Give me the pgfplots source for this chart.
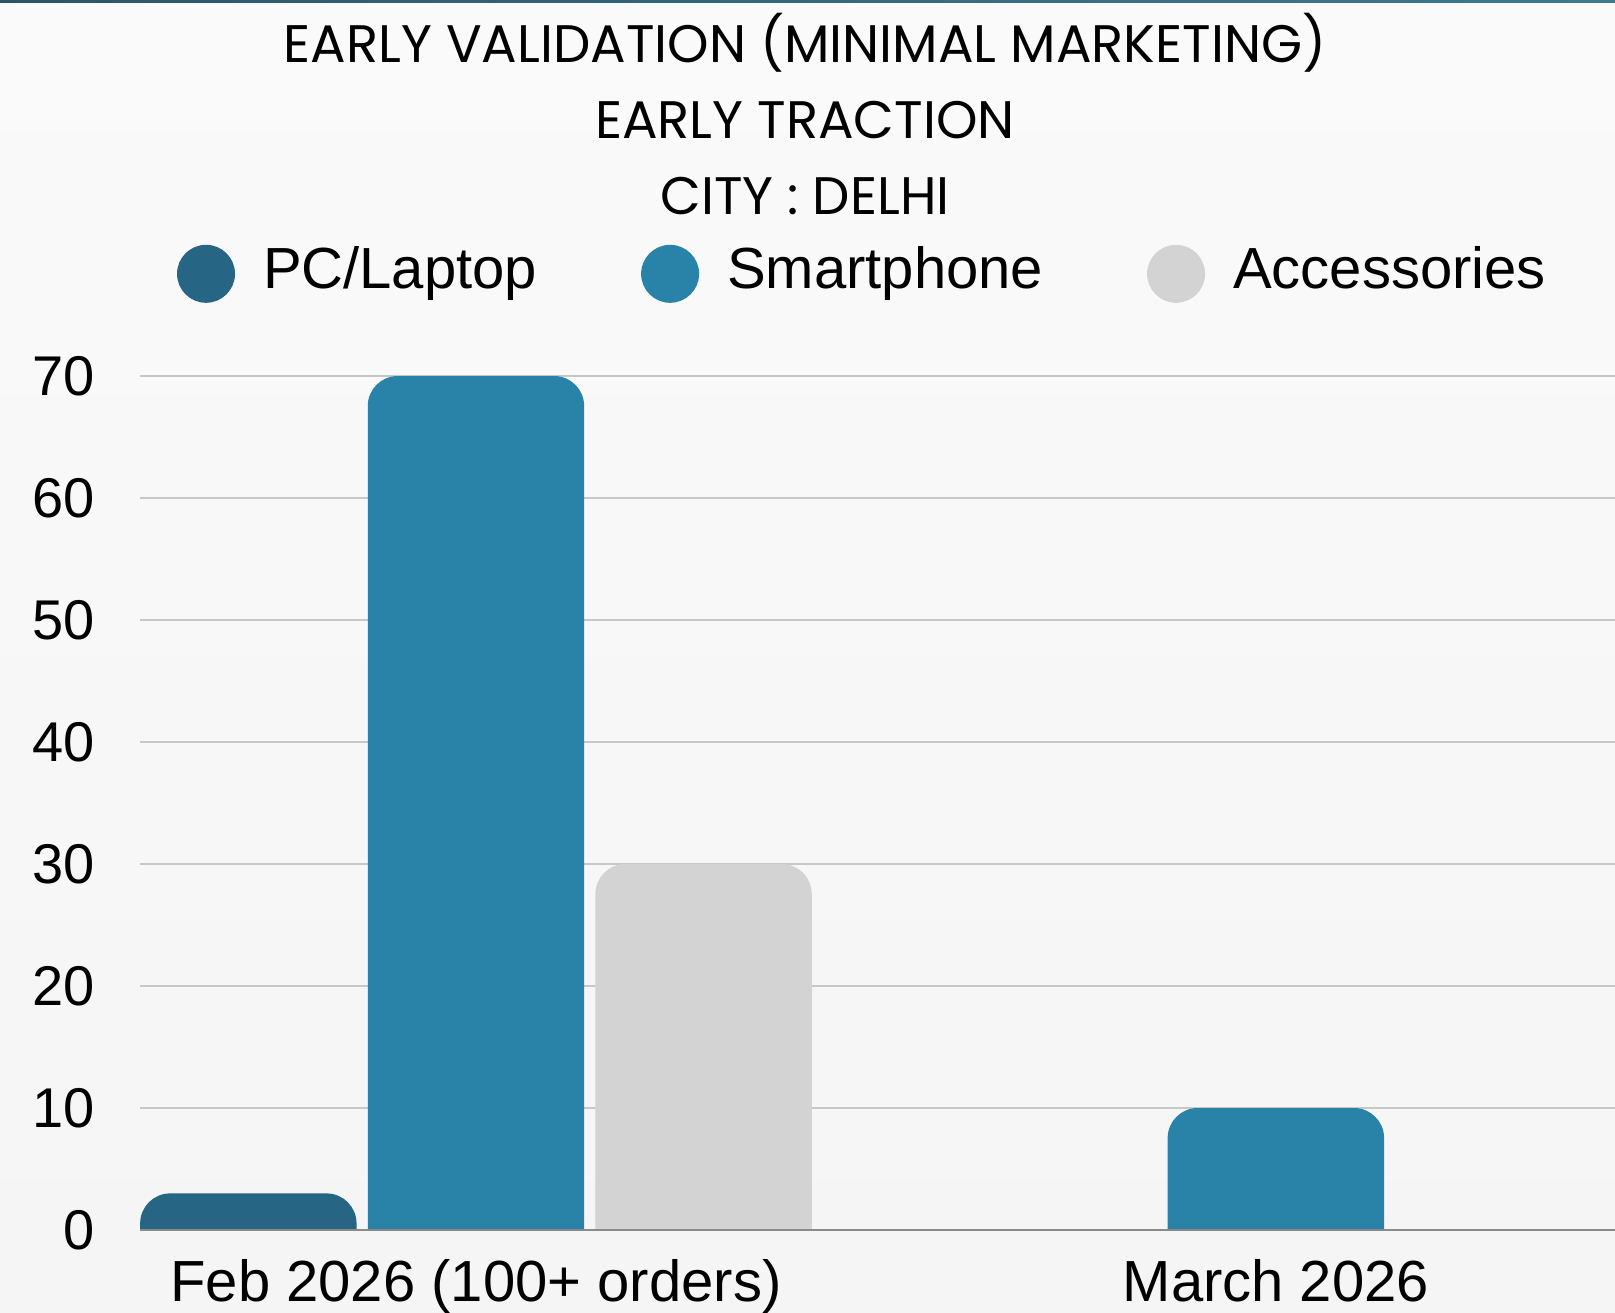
\documentclass[border=0pt]{standalone}
\usepackage{pgfplots}
\pgfplotsset{compat=1.18}
\usepackage{fontspec}
\setmainfont{Liberation Sans}
\newfontfamily\poppins{Poppins}
\definecolor{pcc}{HTML}{276584}
\definecolor{spc}{HTML}{2983A8}
\definecolor{acc}{HTML}{D3D3D3}
\definecolor{gridc}{HTML}{C8C8C8}
\definecolor{bgtop}{HTML}{FAFAFA}
\definecolor{bgbot}{HTML}{F5F5F5}
\definecolor{zeroc}{HTML}{8A8A8A}
\definecolor{stripA}{HTML}{2E5566}
\definecolor{stripB}{HTML}{3F7A8C}
\begin{document}
\begin{tikzpicture}
\shade[top color=bgtop, bottom color=bgbot] (0,0) rectangle (807.5pt,656pt);
\useasboundingbox (0,0) rectangle (807.5pt,656pt);
\shade[left color=stripA, right color=stripB] (0,654.8pt) rectangle (807.5pt,656pt);
\begin{axis}[
  at={(70pt,4.4pt)}, anchor=south west,
  scale only axis, width=737.5pt, height=463.6pt,
  xmin=-0.42, xmax=1.424,
  ymin=-6, ymax=70,
  enlargelimits=false,
  y coord trafo/.code={\pgfmathparse{#1+5}},
  y coord inv trafo/.code={\pgfmathparse{#1-5}},
  ytick={0,10,20,30,40,50,60,70},
  yticklabels={0,10,20,30,40,50,60,70},
  xtick={0,1},
  xticklabels={},
  /pgf/number format/assume math mode=true,
  major tick length=0pt,
  tick style={draw=none},
  axis x line*=bottom,
  axis y line*=left,
  x axis line style={draw=none},
  y axis line style={draw=none},
  ymajorgrids,
  grid style={draw=gridc, line width=0.8pt},
  yticklabel style={font=\fontsize{28}{34}\selectfont, anchor=east, inner sep=0pt, xshift=-22.5pt},
  title={EARLY VALIDATION (MINIMAL MARKETING)\\EARLY TRACTION\\CITY : DELHI},
  title style={font=\poppins\fontsize{26.4}{38}\selectfont, align=center, inner sep=0pt,
    at={(axis description cs:0.4508,1.16070)}, anchor=south},
  legend columns=3,
  legend cell align=left,
  legend style={draw=none, fill=none, inner sep=0pt, outer sep=0pt,
    at={(axis description cs:0.0251,1.11023)}, anchor=west,
    font=\fontsize{29}{34}\selectfont,
    nodes={inner sep=0pt},
    /tikz/every even column/.append style={column sep=52pt},
    /tikz/every odd column/.append style={column sep=14pt}},
  legend image code/.code={\fill[#1] (14.5pt,-2.25pt) circle (14.5pt);},
]
\addplot[ybar, fill=pcc, draw=none, bar width=108.2pt, bar shift=-113.8pt, rounded corners=15pt] coordinates {(0,3)};
\addplot[ybar, fill=spc, draw=none, bar width=108.2pt, bar shift=0pt, rounded corners=15pt] coordinates {(0,70) (1,10)};
\addplot[ybar, fill=acc, draw=none, bar width=108.2pt, bar shift=113.8pt, rounded corners=15pt] coordinates {(0,30)};
\legend{PC/Laptop, Smartphone, Accessories}
\fill[bgbot] (axis cs:-0.5,-7) rectangle (axis cs:1.5,0);
\draw[zeroc, line width=0.6pt] (axis cs:-0.42,0) -- (axis cs:1.424,0);
\coordinate (febl) at (axis cs:0,0);
\coordinate (marl) at (axis cs:1,0);
\end{axis}
\node[font=\fontsize{29}{34}\selectfont, anchor=base, inner sep=0pt] at ([yshift=-35.8pt]febl) {Feb 2026 (100+ orders)};
\node[font=\fontsize{29}{34}\selectfont, anchor=base, inner sep=0pt] at ([yshift=-35.8pt]marl) {March 2026};
\end{tikzpicture}
\end{document}
